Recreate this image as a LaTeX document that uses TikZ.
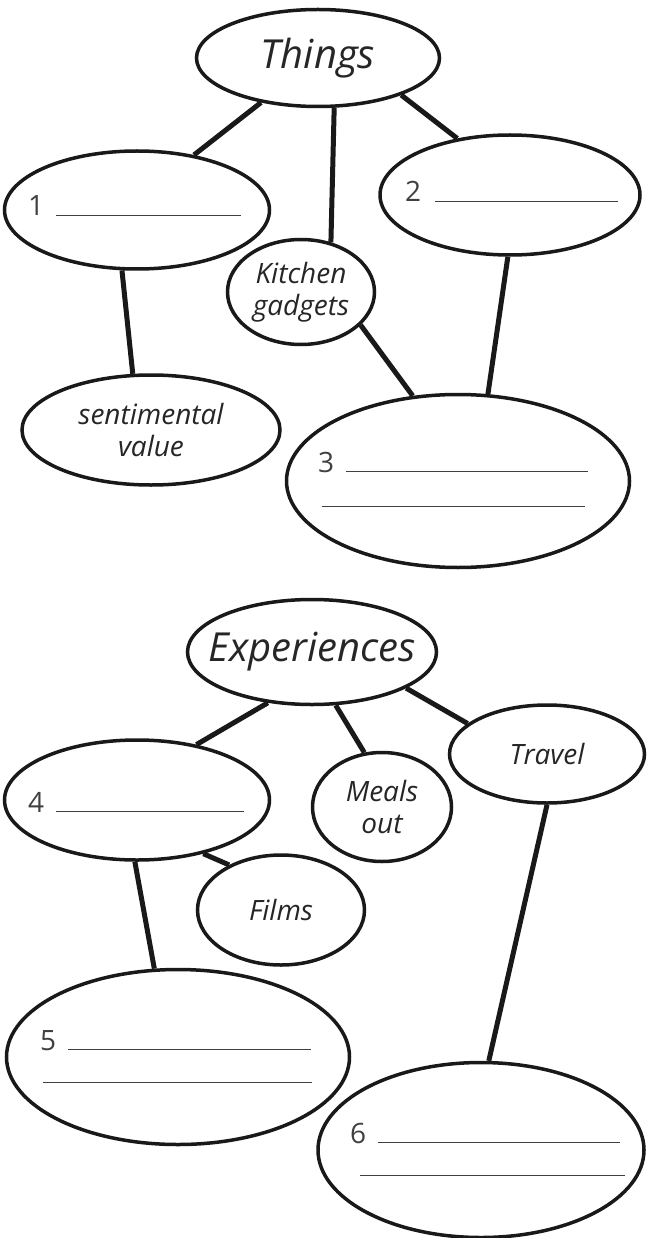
\documentclass[tikz,border=0pt]{standalone}
\usepackage{fontspec}
\setmainfont{Open Sans}
\usetikzlibrary{shapes.geometric}

\begin{document}
\begin{tikzpicture}[x=1pt, y=-1pt, bubble/.style={ellipse, draw=black!90, line width=3.5pt, inner sep=0pt, align=center, text=black!85, font=\fontsize{28}{32}\selectfont\itshape}, title/.style={bubble, font=\fontsize{40}{44}\selectfont\itshape}, fillin/.style={anchor=base west, inner sep=0pt, text=black!75, font=\fontsize{28}{34}\selectfont}, link/.style={draw=black!90, line width=5pt}]

  \useasboundingbox (0,0) rectangle (648,1238);

  % Things
  \node[title, minimum width=243pt, minimum height=97pt] (things) at (318,58) {Things};
  \node[bubble, minimum width=265pt, minimum height=118pt] (one) at (137,210) {};
  \node[bubble, minimum width=260pt, minimum height=120pt] (two) at (510,195) {};
  \node[bubble, minimum width=147pt, minimum height=105pt] (kitchen) at (301,292) {Kitchen\\gadgets};
  \node[bubble, minimum width=258pt, minimum height=110pt] (sentiment) at (151,430) {sentimental\\value};
  \node[bubble, minimum width=343pt, minimum height=173pt] (three) at (458,481) {};

  \node[fillin] (t1) at (28,216) {1\hspace{12pt}\rule{185pt}{1.2pt}};
  \node[fillin] (t2) at (405,202) {2\hspace{14pt}\rule{183pt}{1.2pt}};
  \node[fillin] (t3) at (318,472) {3\hspace{12pt}\rule{242pt}{1.2pt}};
  \node[fillin] (t3b) at (322,507) {\rule{263pt}{1.2pt}};

  \path[link]
       (things.218) edge (one.44)
       (things.-72) edge (kitchen.59)
       (things.-24) edge (two.133)
       (one.-104) edge (sentiment.108)
       (kitchen.-29) edge (three.118)
       (two.-92) edge (three.71);

  % Experiences
  \node[title, minimum width=249pt, minimum height=105pt, inner xsep=-40pt] (exp) at (312,652) {Experiences};
  \node[bubble, minimum width=265pt, minimum height=120pt] (four) at (137,800) {};
  \node[bubble, minimum width=139pt, minimum height=109pt] (meals) at (382,807) {Meals\\out};
  \node[bubble, minimum width=195pt, minimum height=98pt] (travel) at (547,754) {Travel};
  \node[bubble, minimum width=167pt, minimum height=110pt] (films) at (281,910) {Films};
  \node[bubble, minimum width=343pt, minimum height=175pt] (five) at (178,1057) {};
  \node[bubble, minimum width=326pt, minimum height=175pt] (six) at (481,1150) {};

  \node[fillin] (t4) at (28,812) {4\hspace{12pt}\rule{188pt}{1.2pt}};
  \node[fillin] (t5) at (40,1050) {5\hspace{12pt}\rule{243pt}{1.2pt}};
  \node[fillin] (t5b) at (43,1083) {\rule{269pt}{1.2pt}};
  \node[fillin] (t6) at (350,1143) {6\hspace{12pt}\rule{242pt}{1.2pt}};
  \node[fillin] (t6b) at (360,1176) {\rule{265pt}{1.2pt}};

  \path[link]
       (exp.229) edge (four.43)
       (exp.-66) edge (meals.108)
       (exp.-21) edge (travel.159)
       (four.-39) edge (films.139)
       (four.-92) edge (five.105)
       (travel.-90) edge (six.85);
\end{tikzpicture}
\end{document}
